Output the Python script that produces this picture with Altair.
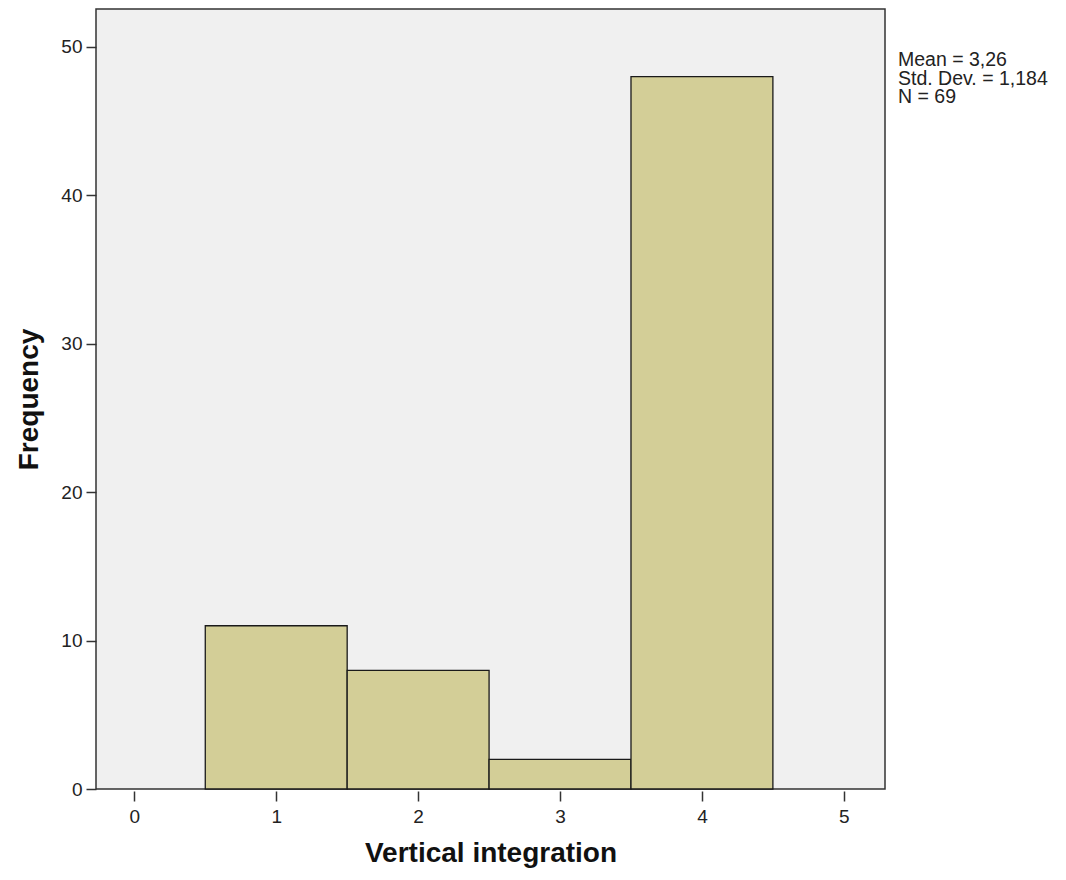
import altair as alt
import pandas as pd

bin_start = [0.5, 1.5, 2.5, 3.5]
bin_end = [1.5, 2.5, 3.5, 4.5]
counts = [11, 8, 2, 48]
x_ticks = [0, 1, 2, 3, 4, 5]
y_ticks = [0, 10, 20, 30, 40, 50]
stats_lines = ["Mean = 3,26", "Std. Dev. = 1,184", "N = 69"]

df = pd.DataFrame({"start": bin_start, "end": bin_end, "count": counts})

FONT = "Liberation Sans"

x_scale = alt.Scale(domain=[-0.27, 5.29], nice=False, zero=False)
y_scale = alt.Scale(domain=[0, 52.56], nice=False)

bars = alt.Chart(df).mark_rect(
    fill="#d3ce97", stroke="#1a1a1a", strokeWidth=1.3
).encode(
    x=alt.X("start:Q", scale=x_scale,
            axis=alt.Axis(values=x_ticks, title="Vertical integration", domain=False,
                          offset=2, tickSize=10, tickColor="#333", tickWidth=1.5,
                          labelFont=FONT, labelFontSize=19, labelColor="#222",
                          labelPadding=6, grid=False,
                          titleFont=FONT, titleFontSize=28, titleFontWeight="bold",
                          titleColor="#111", titlePadding=13)),
    x2="end:Q",
    y=alt.Y("count:Q", scale=y_scale,
            axis=alt.Axis(values=y_ticks, title="Frequency", domain=False,
                          tickSize=10, tickColor="#333", tickWidth=1.5,
                          labelFont=FONT, labelFontSize=19, labelColor="#222",
                          labelPadding=4, grid=False,
                          titleFont=FONT, titleFontSize=28, titleFontWeight="bold",
                          titleColor="#111", titlePadding=17)),
    y2=alt.datum(0),
)

stats = alt.Chart(pd.DataFrame({"k": [0]})).mark_text(
    align="left", baseline="top", font=FONT, fontSize=19.5, color="#222",
    lineHeight=18.5,
).encode(
    x=alt.value(802),
    y=alt.value(42),
    text=alt.value(stats_lines),
)

chart = alt.layer(bars, stats).properties(
    width=789, height=780,
    autosize=alt.AutoSizeParams(type="none"),
    padding={"left": 88, "top": 1, "right": 170, "bottom": 83},
    background="white",
).configure_view(
    fill="#f0f0f0", stroke="#333", strokeWidth=1.5
)

chart.save("out.html", embed_options={"renderer": "svg", "actions": False})
